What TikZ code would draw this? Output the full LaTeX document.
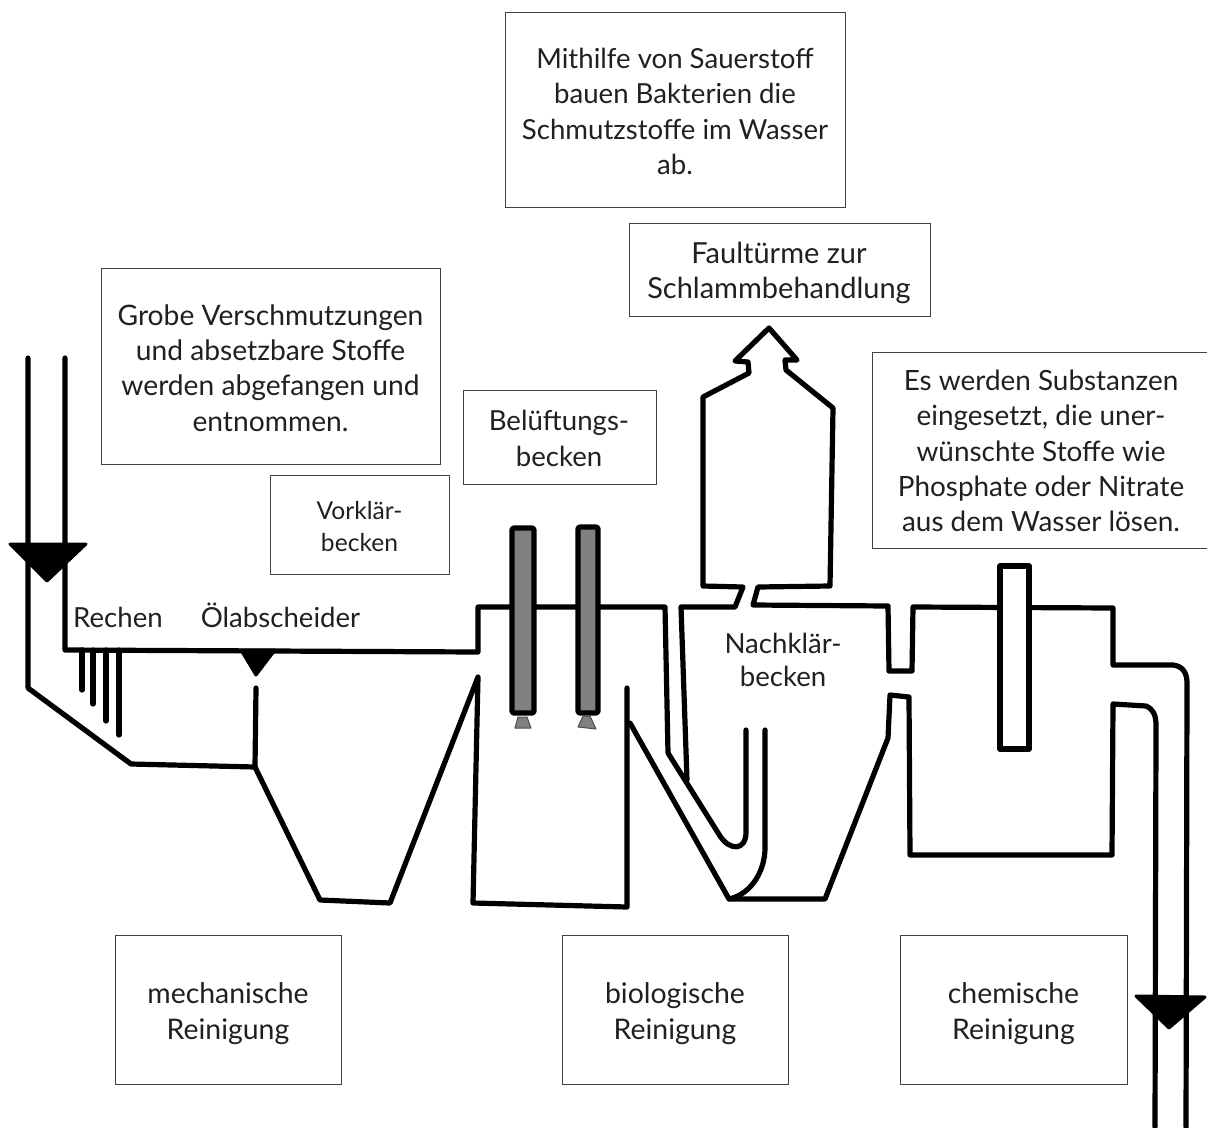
\documentclass[tikz,border=0pt]{standalone}
\usepackage{fontspec}
\setmainfont{Lato}
\definecolor{txtcol}{HTML}{231F20}
\definecolor{tubecol}{HTML}{808080}
\tikzset{
every node/.style={text=txtcol, inner sep=0pt, align=center, font=\fontsize{27.6}{35.4}\selectfont},
infobox/.style={rectangle, draw=txtcol!85, line width=1pt},
boxline/.style={draw=txtcol!85, line width=1pt},
wall/.style={line width=5.2pt, line join=round, line cap=round},
tube/.style={wall, fill=tubecol},
nozzle/.style={draw=black!70, line width=1pt, line join=round, fill=tubecol},
wedge/.style={fill=black, draw=black, line width=3pt, line join=round}
}
\begin{document}
\begin{tikzpicture}[x=1pt, y=-1pt]
\useasboundingbox (0,0) rectangle (1207,1127);
\node[infobox, minimum width=340pt, minimum height=195pt] (sauerstoffbox) at (675,109.5) {};
\node (sauerstoff) at (675,111.5) {Mithilfe von Sauerstoff\\bauen Bakterien die\\Schmutzstoffe im Wasser\\ab.};
\node[infobox, minimum width=301pt, minimum height=93pt] (faultuermebox) at (779.5,269.5) {};
\node[font=\fontsize{29}{35.4}\selectfont] (faultuerme) at (779,273) {Faultürme zur\\Schlammbehandlung};
\node[infobox, minimum width=339pt, minimum height=196pt] (grobbox) at (270.5,366) {};
\node[font=\fontsize{28.2}{35.4}\selectfont] (grob) at (270.5,368) {Grobe Verschmutzungen\\und absetzbare Stoffe\\werden abgefangen und\\entnommen.};
\node[infobox, minimum width=193pt, minimum height=94pt] (belueftungbox) at (559.5,437) {};
\node (belueftung) at (559,438.5) {Belüftungs-\\becken};
\node[infobox, minimum width=179pt, minimum height=99pt] (vorklaerbox) at (359.5,524.5) {};
\node[font=\fontsize{24.6}{32}\selectfont] (vorklaer) at (359.5,526.5) {Vorklär-\\becken};
\node[font=\fontsize{27.9}{35.4}\selectfont] (substanzen) at (1041,451) {Es werden Substanzen\\eingesetzt, die uner-\\wünschte Stoffe wie\\Phosphate oder Nitrate\\aus dem Wasser lösen.};
\draw[boxline] (1207,352) -- (872,352) -- (872,548) -- (1207,548);
\node[infobox, minimum width=226pt, minimum height=149pt] (mechanischbox) at (228,1009.5) {};
\node[font=\fontsize{28.4}{35.4}\selectfont] (mechanisch) at (228,1013.5) {mechanische\\Reinigung};
\node[infobox, minimum width=226pt, minimum height=149pt] (biologischbox) at (675,1009.5) {};
\node[font=\fontsize{28.4}{35.4}\selectfont] (biologisch) at (675,1013.5) {biologische\\Reinigung};
\node[infobox, minimum width=227pt, minimum height=149pt] (chemischbox) at (1013.5,1009.5) {};
\node[font=\fontsize{28.4}{35.4}\selectfont] (chemisch) at (1013.5,1013.5) {chemische\\Reinigung};
\node[anchor=west] (rechen) at (73,617) {Rechen};
\node (oel) at (280.5,615.5) {Ölabscheider};
\node[font=\fontsize{27.6}{33.5}\selectfont] (nachklaer) at (783,660) {Nachklär-\\becken};

\draw[wall] (28,358) -- (28,688) -- (131,764) -- (255,767) -- (320,900) -- (390,903) -- (478,677) -- (473,903) -- (627,907) -- (627,688);
\draw[wall] (65,358) -- (65,650) -- (478,652) -- (478,607) -- (665,607) -- (668,753) -- (720,836) .. controls (730,851) and (746,851) .. (746,832) -- (746,730);
\draw[wall] (256,688) -- (255,767);
\draw[wall] (82,650) -- (82,690);
\draw[wall] (93,650) -- (93,704);
\draw[wall] (106,650) -- (106,721);
\draw[wall] (119,650) -- (119,735);
\draw[wall] (630,723) -- (729,899) -- (825,899) -- (888,738) -- (890,695) -- (909,697) -- (910,855) -- (1112,855) -- (1113,704) -- (1146,706) .. controls (1153,709) and (1156,715) .. (1156,725) -- (1155,1127);
\draw[wall] (729,899) .. controls (752,894) and (765,870) .. (765,848) -- (765,730);
\draw[wall] (687,780) -- (681,607) -- (735,607) -- (743,587) -- (703,586) -- (703,397) -- (749,373) -- (748,362) -- (735,361) -- (769,328) -- (797,360) -- (785,360) -- (786,370) -- (833,408) -- (830,586) -- (758,587) -- (753,605) -- (888,606) -- (889,671) -- (912,671) -- (913,607) -- (1113,608) -- (1113,665) -- (1173,665) .. controls (1182,666) and (1187,672) .. (1187,683) -- (1186,1127);
\draw[tube, rounded corners=2pt] (512,528) rectangle (534,713);
\draw[tube, rounded corners=2pt] (578,527) rectangle (598,713);
\draw[nozzle] (518,717) -- (527,717) -- (531,728) -- (515,728) -- cycle;
\draw[nozzle] (583,716) -- (590,716) -- (596,729) -- (578,727) -- cycle;
\draw[wall, fill=white] (1000,566) rectangle (1029,749);
\draw[wedge] (10,544) -- (86,544) -- (47,581) -- cycle;
\draw[wedge] (241,650) -- (275,650) -- (256,675) -- cycle;
\draw[wedge] (1136,996) -- (1205,997) -- (1169,1028) -- cycle;
\end{tikzpicture}
\end{document}
